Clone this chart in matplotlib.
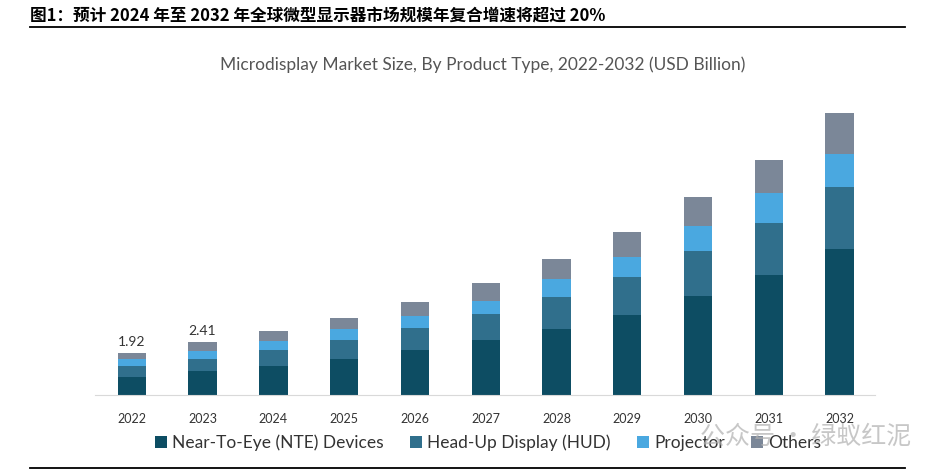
import matplotlib.pyplot as plt
from matplotlib.lines import Line2D
from matplotlib.patches import Patch

plt.rcParams['font.family'] = ['Lato', 'Noto Sans CJK SC', 'DejaVu Sans']

# data (USD billion)
years = ['2022', '2023', '2024', '2025', '2026', '2027', '2028', '2029', '2030', '2031', '2032']
nte = [0.82, 1.10, 1.33, 1.65, 2.06, 2.51, 3.02, 3.66, 4.53, 5.49, 6.67]
hud = [0.50, 0.55, 0.73, 0.87, 1.01, 1.19, 1.46, 1.74, 2.06, 2.38, 2.83]
projector = [0.33, 0.37, 0.41, 0.50, 0.55, 0.59, 0.82, 0.91, 1.14, 1.37, 1.51]
others = [0.27, 0.39, 0.46, 0.50, 0.64, 0.82, 0.91, 1.14, 1.33, 1.51, 1.87]
labelled = {0: '1.92', 1: '2.41'}

series = [('Near-To-Eye (NTE) Devices', nte, '#0d4d63'),
          ('Head-Up Display (HUD)', hud, '#306f8c'),
          ('Projector', projector, '#4aa8e0'),
          ('Others', others, '#7b8798')]

fig = plt.figure(figsize=(9.35, 4.74), dpi=100)
ax = fig.add_axes([95/935, 79/474, 780/935, 306/474])

x = list(range(len(years)))
bottom = [0.0] * len(years)
for name, vals, col in series:
    ax.bar(x, vals, width=0.4, bottom=bottom, color=col, label=name)
    bottom = [b + v for b, v in zip(bottom, vals)]

for i, txt in labelled.items():
    ax.text(i, bottom[i] + 0.25, txt, ha='center', va='bottom', fontsize=10, color='#333333')

ax.set_xlim(-0.52, 10.5)
ax.set_ylim(0, 14)
ax.set_xticks(x)
ax.set_xticklabels(years, fontsize=9, color='#333333')
ax.tick_params(axis='x', length=0, pad=13)
ax.set_yticks([])
for s in ['top', 'left', 'right']:
    ax.spines[s].set_visible(False)
ax.spines['bottom'].set_color('#d9d9d9')

fig.text(483/935, 1 - 65/474, 'Microdisplay Market Size, By Product Type, 2022-2032 (USD Billion)',
         ha='center', va='center', fontsize=12.5, color='#555555')

handles = [Patch(facecolor=c, label=n) for n, v, c in series]
fig.legend(handles=handles, loc='center', bbox_to_anchor=(488/935, 31/474), ncol=4,
           frameon=False, fontsize=12.5, handlelength=0.7, handleheight=0.7,
           handletextpad=0.3, columnspacing=1.5, labelcolor='#333333')

# report header and rules
fig.text(30/935, 1 - 16/474, '图1：预计 2024 年至 2032 年全球微型显示器市场规模年复合增速将超过 20%',
         ha='left', va='center', fontsize=12, fontweight='bold',
         family=['Noto Sans CJK SC', 'DejaVu Sans'])
fig.add_artist(Line2D([30/935, 905/935], [1 - 27/474, 1 - 27/474], color='black', lw=1.3))
fig.add_artist(Line2D([30/935, 905/935], [1 - 468/474, 1 - 468/474], color='black', lw=1.3))

# watermark
fig.text(700/935, 1 - 437/474, '公众号 · 绿蚁红泥', ha='left', va='center', fontsize=18,
         color='#b0b0b0', alpha=0.7, family=['Noto Sans CJK SC', 'DejaVu Sans'], zorder=10)

fig.savefig('out.png', dpi=100)
